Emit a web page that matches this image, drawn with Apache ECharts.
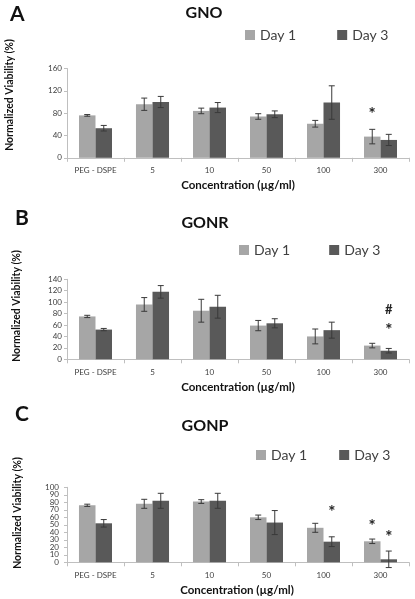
<!DOCTYPE html>
<html><head><meta charset="utf-8">
<script src="https://cdn.jsdelivr.net/npm/echarts@6/dist/echarts.min.js"></script>
<style>html,body{margin:0;padding:0;background:#fff}#c{width:415px;height:599px}</style>
</head><body><div id="c"></div>
<script>
const categories = ['PEG - DSPE', '5', '10', '50', '100', '300'];
const seriesNames = ['Day 1', 'Day 3'];
// Panel A: GNO
const gnoDay1 = [76, 96, 84, 74, 61, 38];
const gnoDay1Err = [1.5, 11, 5, 5, 6, 13];
const gnoDay3 = [53, 100, 90, 78, 99, 32];
const gnoDay3Err = [5, 10, 9, 6, 30, 10];
const gnoMarks = [[0, 5, 84, '*']];
// Panel B: GONR
const gonrDay1 = [75, 96, 85, 59, 40, 24];
const gonrDay1Err = [2, 12, 20, 9, 13, 4];
const gonrDay3 = [52, 118, 92, 63, 51, 15];
const gonrDay3Err = [2, 11, 20, 8, 14, 4];
const gonrMarks = [[1, 5, 87, '#'], [1, 5, 57, '*']];
// Panel C: GONP
const gonpDay1 = [76, 78, 81, 60, 46, 28];
const gonpDay1Err = [1.5, 6, 2.5, 3, 6, 3];
const gonpDay3 = [52, 82, 82, 53, 27.5, 4];
const gonpDay3Err = [5, 10, 10, 16, 6.5, 11];
const gonpMarks = [[1, 4, 72, '*'], [0, 5, 53, '*'], [1, 5, 39, '*']];
// Axis tick labels
const gnoTicks = [0, 40, 80, 120, 160];
const gonrTicks = [0, 20, 40, 60, 80, 100, 120, 140];
const gonpTicks = [0, 10, 20, 30, 40, 50, 60, 70, 80, 90, 100];
const yTicks = [gnoTicks, gonrTicks, gonpTicks];
const yIntervals = [40, 20, 10];
const titles = ['GNO', 'GONR', 'GONP'];
const letters = ['A', 'B', 'C'];

const FONT = 'Lato';
const C1 = '#a6a6a6', C3 = '#595959';
const GAP = 0.42;

const grids = [
  {left: 67, right: 6, top: 68.5, height: 89.3},
  {left: 67, right: 6, top: 279.3, height: 80},
  {left: 67, right: 6, top: 487.3, height: 75}
];

function errRender(sign) {
  return function (params, api) {
    const c = api.value(0), v = api.value(1), e = api.value(2);
    const band = api.size([1, 0])[0];
    const bw = band * (1 - GAP) / 2;
    const dx = sign * bw / 2;
    const t = api.coord([c, v + e]);
    const b = api.coord([c, v - e]);
    const x = t[0] + dx;
    const st = {stroke: '#3a3a3a', lineWidth: 1};
    return {type: 'group', children: [
      {type: 'line', shape: {x1: x, y1: t[1], x2: x, y2: b[1]}, style: st},
      {type: 'line', shape: {x1: x - 3, y1: t[1], x2: x + 3, y2: t[1]}, style: st},
      {type: 'line', shape: {x1: x - 3, y1: b[1], x2: x + 3, y2: b[1]}, style: st}
    ]};
  };
}
function markRender(params, api) {
  const s = api.value(0), c = api.value(1), v = api.value(2);
  const band = api.size([1, 0])[0];
  const bw = band * (1 - GAP) / 2;
  const dx = (s === 0 ? -1 : 1) * bw / 2;
  const p = api.coord([c, v]);
  const t = api.value(3);
  const star = t === '*';
  return {type: 'text', x: p[0] + dx, y: p[1] + (star ? 4 : 0), style: {
    text: t, fill: '#222', font: (star ? 'bold 17px ' : 'bold 13px ') + FONT, align: 'center', verticalAlign: 'middle'}};
}

const panels = [
  [gnoDay1, gnoDay1Err, gnoDay3, gnoDay3Err, gnoMarks],
  [gonrDay1, gonrDay1Err, gonrDay3, gonrDay3Err, gonrMarks],
  [gonpDay1, gonpDay1Err, gonpDay3, gonpDay3Err, gonpMarks]
];

const xAxis = [], yAxis = [], series = [];
panels.forEach((p, i) => {
  const ticks = yTicks[i];
  xAxis.push({type: 'category', gridIndex: i, data: categories,
    axisLine: {lineStyle: {color: '#bfbfbf'}},
    axisTick: {show: true, length: 4, lineStyle: {color: '#bfbfbf'}},
    axisLabel: {fontFamily: FONT, fontSize: 8, color: '#404040', margin: 9, interval: 0}});
  yAxis.push({type: 'value', gridIndex: i, min: ticks[0], max: ticks[ticks.length - 1], interval: yIntervals[i],
    splitLine: {show: false},
    axisLine: {show: true, lineStyle: {color: '#bfbfbf'}},
    axisTick: {show: true, length: 3, lineStyle: {color: '#bfbfbf'}, customValues: ticks},
    // Panel C's dense labels are placed below through the axis scale (the library culls them otherwise)
    axisLabel: {show: i < 2, fontFamily: FONT, fontSize: 8, color: '#404040', margin: 5,
      customValues: ticks, showMinLabel: true, showMaxLabel: true, hideOverlap: false}});
  series.push({name: seriesNames[0], type: 'bar', xAxisIndex: i, yAxisIndex: i, data: p[0],
    itemStyle: {color: C1}, barGap: '0%', barCategoryGap: (GAP * 100) + '%'});
  series.push({name: seriesNames[1], type: 'bar', xAxisIndex: i, yAxisIndex: i, data: p[2],
    itemStyle: {color: C3}, barGap: '0%', barCategoryGap: (GAP * 100) + '%'});
  series.push({type: 'custom', xAxisIndex: i, yAxisIndex: i, renderItem: errRender(-1),
    encode: {x: 0, y: 1}, data: p[0].map((v, k) => [k, v, p[1][k]]), z: 5, silent: true});
  series.push({type: 'custom', xAxisIndex: i, yAxisIndex: i, renderItem: errRender(1),
    encode: {x: 0, y: 1}, data: p[2].map((v, k) => [k, v, p[3][k]]), z: 5, silent: true});
  series.push({type: 'custom', xAxisIndex: i, yAxisIndex: i, renderItem: markRender,
    encode: {x: 1, y: 2}, data: p[4], z: 6, silent: true});
});

const legendPos = [
  {left: 245, top: 28, itemGap: 41},
  {left: 239, top: 243, itemGap: 39},
  {left: 256, top: 448, itemGap: 32}
];
const legend = legendPos.map(lp => Object.assign({
  data: seriesNames, orient: 'horizontal', padding: 0, icon: 'rect',
  itemWidth: 10, itemHeight: 10,
  textStyle: {fontFamily: FONT, fontSize: 14, color: '#404040'}
}, lp));

const letterPos = [[10, 15], [15, 219], [15, 415]];
const titlePos = [[204, 13], [205, 223], [205, 426]];
const yNamePos = [[10, 95], [17, 306], [18, 513]];
const xNamePos = [[238, 185], [238, 387], [237, 590]];
const graphic = [];
for (let i = 0; i < 3; i++) {
  graphic.push({type: 'text', left: letterPos[i][0], top: letterPos[i][1] - 11,
    style: {text: letters[i], font: 'bold 21px ' + FONT, fill: '#111'}});
  graphic.push({type: 'text', x: titlePos[i][0], y: titlePos[i][1],
    style: {text: titles[i], font: 'bold 16px ' + FONT, fill: '#111', align: 'center', verticalAlign: 'middle'}});
  graphic.push({type: 'text', x: yNamePos[i][0], y: yNamePos[i][1], rotation: Math.PI / 2,
    style: {text: 'Normalized Viability (%)', font: 'bold 10.5px ' + FONT, fill: '#111', align: 'center', verticalAlign: 'middle'}});
  graphic.push({type: 'text', x: xNamePos[i][0], y: xNamePos[i][1],
    style: {text: 'Concentration (µg/ml)', font: 'bold 11.5px ' + FONT, fill: '#111', align: 'center', verticalAlign: 'middle'}});
}

const chart = echarts.init(document.getElementById('c'), null, {renderer: 'canvas'});
chart.setOption({
  animation: false, backgroundColor: '#fff',
  grid: grids, xAxis, yAxis, series, legend
});
// Panel C tick labels positioned via the library's y scale
gonpTicks.forEach(v => {
  const py = chart.convertToPixel({yAxisIndex: 2}, v);
  graphic.push({type: 'text', x: grids[2].left - 8, y: py,
    style: {text: String(v), font: '8px ' + FONT, fill: '#404040', align: 'right', verticalAlign: 'middle'}});
});
chart.setOption({graphic});
</script></body></html>
